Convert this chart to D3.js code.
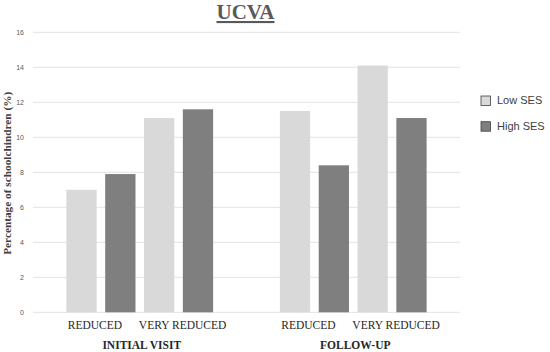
<!DOCTYPE html>
<html>
<head>
<meta charset="utf-8">
<script src="https://cdn.jsdelivr.net/npm/d3@7"></script>
<style>
  body { margin: 0; background: #fff; }
  svg { display: block; }
</style>
</head>
<body>
<svg id="chart" width="550" height="352"></svg>
<script>
const groups = ["INITIAL VISIT", "FOLLOW-UP"];
const subcategories = ["REDUCED", "VERY REDUCED"];
const series = ["Low SES", "High SES"];
const lowSES = [7.0, 11.1, 11.5, 14.1];   // IV-reduced, IV-very reduced, FU-reduced, FU-very reduced
const highSES = [7.9, 11.6, 8.4, 11.1];
const yTicks = [0, 2, 4, 6, 8, 10, 12, 14, 16];
const colors = ["#d9d9d9", "#7f7f7f"];

const svg = d3.select("#chart");
const plot = { left: 33, right: 460, top: 32.3, bottom: 312.3 };

const y = d3.scaleLinear().domain([0, 16]).range([plot.bottom, plot.top]);
const x0 = d3.scaleBand().domain(groups).range([plot.left, plot.right]).padding(0);
const combos = [];
subcategories.forEach(s => series.forEach(se => combos.push(s + "|" + se)));
const x1 = d3.scaleBand().domain(combos).range([0, x0.bandwidth()])
  .paddingInner(0.22).paddingOuter(0.86);

// gridlines
svg.append("g")
  .selectAll("line").data(yTicks).join("line")
  .attr("x1", plot.left).attr("x2", plot.right)
  .attr("y1", d => y(d)).attr("y2", d => y(d))
  .attr("stroke", "#e3e3e3").attr("stroke-width", 1);

// y axis tick labels
const yAxis = d3.axisLeft(y).tickValues(yTicks).tickSize(0).tickPadding(0);
const ya = svg.append("g").attr("transform", "translate(24,0)").call(yAxis);
ya.select(".domain").remove();
ya.selectAll("text").attr("font-family", "'Liberation Sans', Arial, sans-serif")
  .attr("font-size", 7).attr("fill", "#595959");

// bars
const data = [];
groups.forEach((g, gi) => {
  subcategories.forEach((s, si) => {
    const idx = gi * 2 + si;
    data.push({ g, s, se: series[0], v: lowSES[idx], c: colors[0] });
    data.push({ g, s, se: series[1], v: highSES[idx], c: colors[1] });
  });
});
svg.append("g").selectAll("rect").data(data).join("rect")
  .attr("x", d => x0(d.g) + x1(d.s + "|" + d.se))
  .attr("width", x1.bandwidth())
  .attr("y", d => y(d.v))
  .attr("height", d => y(0) - y(d.v))
  .attr("fill", d => d.c);

// subcategory labels
const subLabels = [];
groups.forEach(g => subcategories.forEach((s, si) => subLabels.push({ g, s, si })));
svg.append("g").selectAll("text").data(subLabels).join("text")
  .attr("x", d => x0(d.g) + (x1(d.s + "|" + series[0]) + x1(d.s + "|" + series[1]) + x1.bandwidth()) / 2)
  .attr("dx", d => d.si === 0 ? -6 : 4)
  .attr("y", 329)
  .attr("text-anchor", "middle")
  .attr("font-family", "'Liberation Serif', 'Times New Roman', serif")
  .attr("font-size", 11.5).attr("fill", "#262626")
  .text(d => d.s);

// group labels
svg.append("g").selectAll("text").data(groups).join("text")
  .attr("x", d => x0(d) + x0.bandwidth() / 2 + 2)
  .attr("y", 349)
  .attr("text-anchor", "middle")
  .attr("font-family", "'Liberation Serif', 'Times New Roman', serif")
  .attr("font-weight", "bold")
  .attr("font-size", 11.5).attr("fill", "#262626")
  .text(d => d);

// title
svg.append("text")
  .attr("x", 245.5).attr("y", 19)
  .attr("text-anchor", "middle")
  .attr("font-family", "'Liberation Serif', 'Times New Roman', serif")
  .attr("font-weight", "bold")
  .attr("font-size", 21).attr("fill", "#595959")
  .attr("text-decoration", "underline")
  .text("UCVA");

// y axis title
svg.append("text")
  .attr("transform", `translate(11,${(plot.top + plot.bottom) / 2 + 1}) rotate(-90)`)
  .attr("text-anchor", "middle")
  .attr("font-family", "'Liberation Serif', 'Times New Roman', serif")
  .attr("font-weight", "bold")
  .attr("font-size", 11.3).attr("fill", "#404040")
  .text("Percentage of schoolchindren (%)");

// legend
const legend = svg.append("g").selectAll("g").data(series).join("g")
  .attr("transform", (d, i) => `translate(481,${96 + i * 25.7})`);
legend.append("rect")
  .attr("width", 9.5).attr("height", 9.5)
  .attr("fill", (d, i) => colors[i])
  .attr("stroke", "#404040").attr("stroke-width", 0.8);
legend.append("text")
  .attr("x", 16).attr("y", 8)
  .attr("font-family", "'Liberation Sans', Arial, sans-serif")
  .attr("font-size", 11).attr("fill", "#404040")
  .text(d => d);
</script>
</body>
</html>
